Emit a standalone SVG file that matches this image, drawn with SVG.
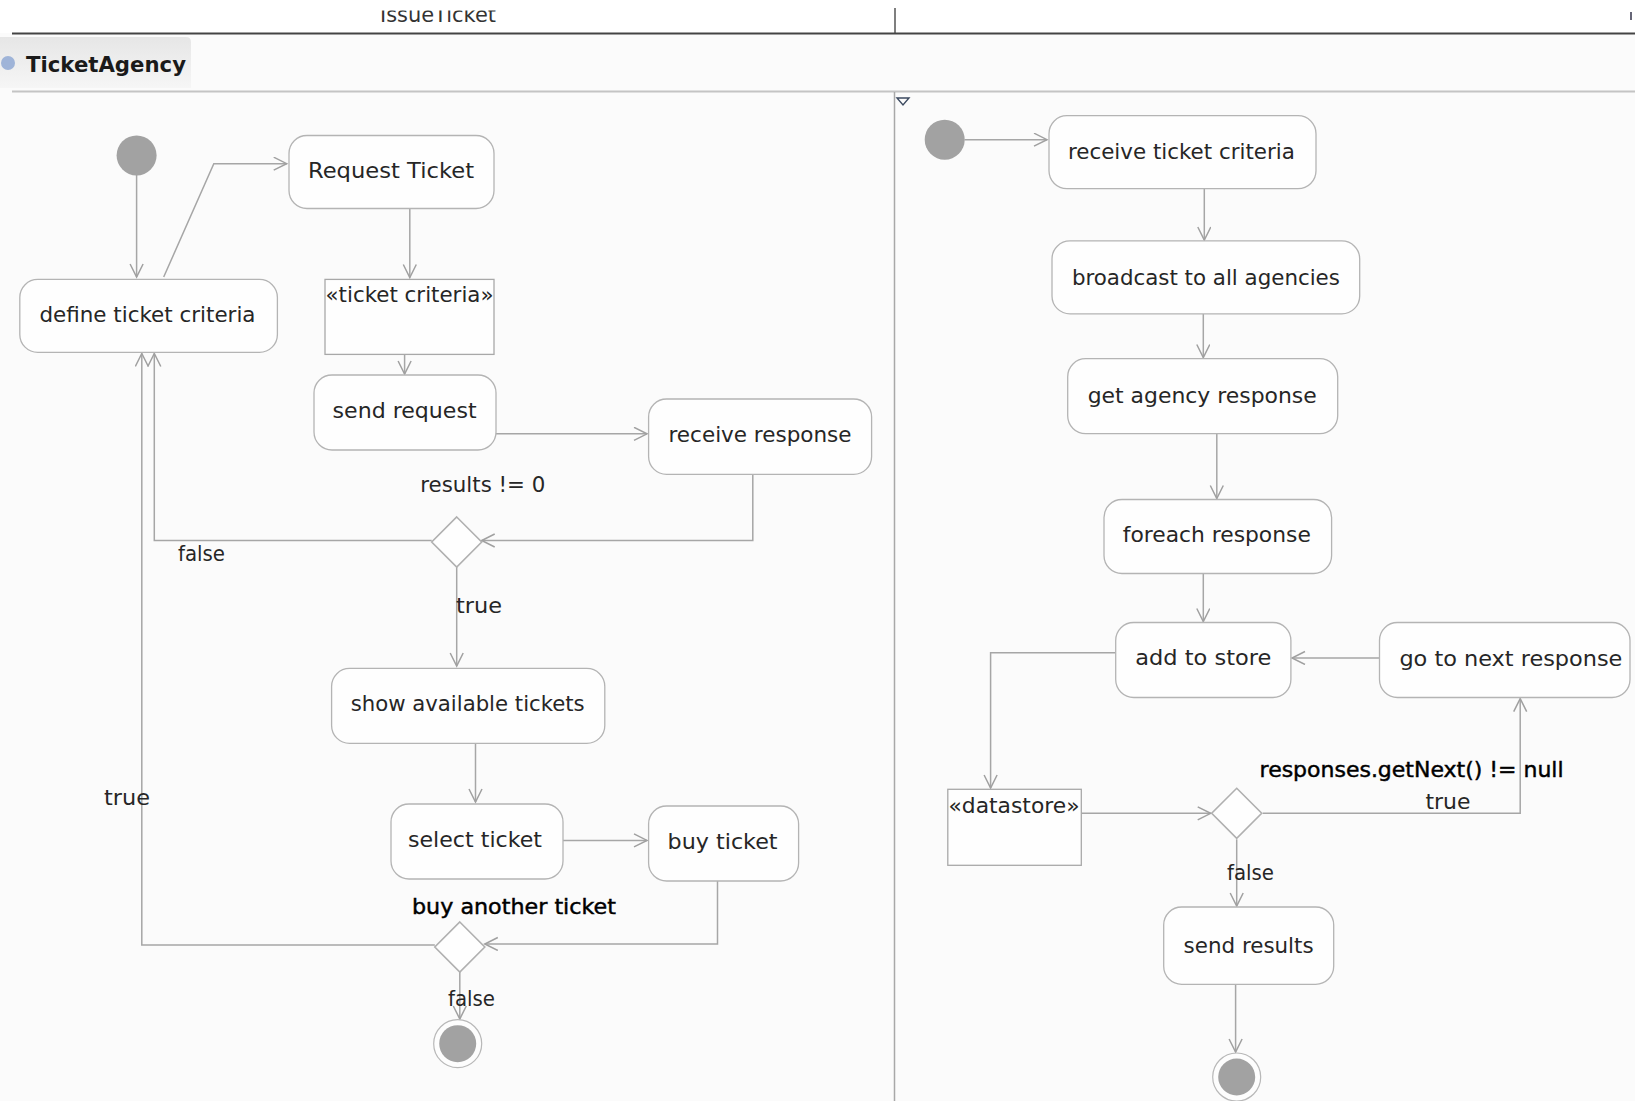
<svg xmlns="http://www.w3.org/2000/svg" width="1635" height="1101" viewBox="0 0 1635 1101">
<defs>
<style>
.bg{fill:#fbfbfb}
.act{fill:#fefefe;stroke:#b4b4b4;stroke-width:1.3}
.obj{fill:#fefefe;stroke:#a8a8a8;stroke-width:1.3}
.dec{fill:#fefefe;stroke:#b0b0b0;stroke-width:1.6}
.init{fill:#a2a2a2}
.fin-o{fill:#fdfdfd;stroke:#b8b8b8;stroke-width:1.2}
.fin-i{fill:#a2a2a2}
.t{font-family:"DejaVu Sans","Liberation Sans",sans-serif;font-size:21px;fill:#262626}
.tb{font-family:"DejaVu Sans","Liberation Sans",sans-serif;font-size:21px;fill:#000;stroke:#000;stroke-width:0.45}
.c{text-anchor:middle}
.edge{fill:none;stroke:#a6a6a6;stroke-width:1.5}
</style>
<marker id="arr" markerUnits="userSpaceOnUse" markerWidth="16" markerHeight="16" refX="14" refY="7" orient="auto">
<path d="M1,0.5 L14,7 L1,13.5" fill="none" stroke="#a0a0a0" stroke-width="1.5"/>
</marker>
<linearGradient id="tabg" x1="0" y1="0" x2="0" y2="1">
<stop offset="0" stop-color="#e6e6e6"/>
<stop offset="1" stop-color="#f6f6f6"/>
</linearGradient>
<clipPath id="topclip"><rect x="0" y="10.5" width="1635" height="22"/></clipPath>
</defs>
<rect class="bg" x="0" y="0" width="1635" height="1101"/>
<rect x="0" y="0" width="1635" height="33" fill="#ffffff"/>

<g id="header">
<text x="438" y="21.5" text-anchor="middle" clip-path="url(#topclip)" font-family="DejaVu Sans, sans-serif" font-size="22" fill="#333" textLength="116" lengthAdjust="spacingAndGlyphs">IssueTicket</text>
<line x1="895" y1="8" x2="895" y2="33" stroke="#555" stroke-width="1.5"/>
<line x1="1631" y1="12" x2="1631" y2="20" stroke="#667" stroke-width="2"/>
<line x1="12" y1="33.5" x2="1635" y2="33.5" stroke="#444" stroke-width="2"/>
<path d="M0,37 H186 Q191,37 191,42 V88 H0 Z" fill="url(#tabg)"/>
<circle cx="8" cy="63" r="7" fill="#9fb4d8"/>
<text x="26" y="72" font-family="DejaVu Sans, sans-serif" font-size="21" font-weight="bold" fill="#1a1a1a" textLength="160" lengthAdjust="spacingAndGlyphs">TicketAgency</text>
<line x1="12" y1="91.5" x2="1635" y2="91.5" stroke="#c4c4c4" stroke-width="1.8"/>
<line x1="894.5" y1="92" x2="894.5" y2="1101" stroke="#a8a8a8" stroke-width="1.5"/>
<path d="M897,98 L909,98 L903,105 Z" fill="none" stroke="#3c4a60" stroke-width="1.4"/>
</g>

<g id="connectors">
<path class="edge" marker-end="url(#arr)" d="M136.6,175 V277"/>
<path class="edge" marker-end="url(#arr)" d="M163.7,277 L213.8,163.7 H286.7"/>
<path class="edge" marker-end="url(#arr)" d="M409.8,208.5 V277.5"/>
<path class="edge" marker-end="url(#arr)" d="M404.6,354.5 V374"/>
<path class="edge" marker-end="url(#arr)" d="M496,433.8 H647"/>
<path class="edge" marker-end="url(#arr)" d="M752.8,474.4 V540.5 H481.7"/>
<path class="edge" marker-end="url(#arr)" d="M431.7,540.5 H154.3 V353.5"/>
<path class="edge" marker-end="url(#arr)" d="M456.7,567 V666"/>
<path class="edge" marker-end="url(#arr)" d="M475.5,743.4 V802"/>
<path class="edge" marker-end="url(#arr)" d="M563,840.4 H647"/>
<path class="edge" marker-end="url(#arr)" d="M717.5,881 V944 H484.8"/>
<path class="edge" marker-end="url(#arr)" d="M434.8,945 H141.8 V353.5"/>
<path class="edge" marker-end="url(#arr)" d="M459.8,971 V1019"/>
<path class="edge" marker-end="url(#arr)" d="M964.5,139.7 H1047"/>
<path class="edge" marker-end="url(#arr)" d="M1204.3,188.7 V240"/>
<path class="edge" marker-end="url(#arr)" d="M1203.3,313.9 V357.5"/>
<path class="edge" marker-end="url(#arr)" d="M1216.8,433.8 V498.5"/>
<path class="edge" marker-end="url(#arr)" d="M1203.3,573.5 V621.5"/>
<path class="edge" marker-end="url(#arr)" d="M1379.5,658 H1292"/>
<path class="edge" marker-end="url(#arr)" d="M1115.7,652.7 H990.6 V788"/>
<path class="edge" marker-end="url(#arr)" d="M1081.3,813.3 H1210.7"/>
<path class="edge" marker-end="url(#arr)" d="M1262.7,813.3 H1520.2 V698.6"/>
<path class="edge" marker-end="url(#arr)" d="M1236.7,839.3 V906"/>
<path class="edge" marker-end="url(#arr)" d="M1235.6,984.3 V1052"/>
</g>

<g id="initial1"><circle class="init" cx="136.6" cy="155.4" r="20"/></g>
<g id="request-ticket"><rect class="act" x="289" y="135.5" width="205" height="73" rx="18"/><text class="t c" x="391" y="178" textLength="166" lengthAdjust="spacingAndGlyphs">Request Ticket</text></g>
<g id="define-ticket-criteria"><rect class="act" x="19.8" y="279.4" width="257.6" height="73" rx="18"/><text class="t c" x="147.5" y="322" textLength="216" lengthAdjust="spacingAndGlyphs">define ticket criteria</text></g>
<g id="ticket-criteria-obj"><rect class="obj" x="325" y="279.4" width="169" height="75"/><text class="t" x="325.5" y="302" textLength="168" lengthAdjust="spacingAndGlyphs">«ticket criteria»</text></g>
<g id="send-request"><rect class="act" x="314" y="375" width="182" height="75" rx="18"/><text class="t c" x="404.6" y="418" textLength="144" lengthAdjust="spacingAndGlyphs">send request</text></g>
<g id="receive-response"><rect class="act" x="648.6" y="399" width="223" height="75.4" rx="18"/><text class="t c" x="760" y="442" textLength="183" lengthAdjust="spacingAndGlyphs">receive response</text></g>
<g id="decision1"><path class="dec" d="M456.7,517 L481.7,542 L456.7,567 L431.7,542 Z"/></g>
<g id="lbl-results"><text class="t c" x="482.8" y="492" textLength="125" lengthAdjust="spacingAndGlyphs">results != 0</text></g>
<g id="lbl-false1"><text class="t" x="178" y="561" textLength="47" lengthAdjust="spacingAndGlyphs">false</text></g>
<g id="lbl-true1"><text class="t" x="456" y="613" textLength="46" lengthAdjust="spacingAndGlyphs">true</text></g>
<g id="show-available-tickets"><rect class="act" x="331.6" y="668.4" width="273.2" height="75" rx="18"/><text class="t c" x="467.7" y="711" textLength="234" lengthAdjust="spacingAndGlyphs">show available tickets</text></g>
<g id="select-ticket"><rect class="act" x="391" y="804" width="172" height="75" rx="18"/><text class="t c" x="475" y="847" textLength="134" lengthAdjust="spacingAndGlyphs">select ticket</text></g>
<g id="buy-ticket"><rect class="act" x="648.6" y="806" width="150" height="75" rx="18"/><text class="t c" x="722.6" y="849" textLength="110" lengthAdjust="spacingAndGlyphs">buy ticket</text></g>
<g id="lbl-buy-another"><text class="tb c" x="514" y="914" textLength="204" lengthAdjust="spacingAndGlyphs">buy another ticket</text></g>
<g id="decision2"><path class="dec" d="M459.8,922 L484.8,947 L459.8,972 L434.8,947 Z"/></g>
<g id="lbl-true2"><text class="t" x="104" y="805" textLength="46" lengthAdjust="spacingAndGlyphs">true</text></g>
<g id="lbl-false2"><text class="t" x="448" y="1006" textLength="47" lengthAdjust="spacingAndGlyphs">false</text></g>
<g id="final1"><circle class="fin-o" cx="457.7" cy="1043.7" r="24"/><circle class="fin-i" cx="457.7" cy="1043.7" r="18.5"/></g>

<g id="initial2"><circle class="init" cx="944.7" cy="139.7" r="20"/></g>
<g id="receive-ticket-criteria"><rect class="act" x="1049" y="115.7" width="267" height="73" rx="18"/><text class="t c" x="1181.4" y="158.5" textLength="227" lengthAdjust="spacingAndGlyphs">receive ticket criteria</text></g>
<g id="broadcast"><rect class="act" x="1052" y="240.9" width="307.7" height="73" rx="18"/><text class="t c" x="1205.9" y="284.7" textLength="268" lengthAdjust="spacingAndGlyphs">broadcast to all agencies</text></g>
<g id="get-agency-response"><rect class="act" x="1067.7" y="358.7" width="270" height="75" rx="18"/><text class="t c" x="1202.2" y="402.5" textLength="229" lengthAdjust="spacingAndGlyphs">get agency response</text></g>
<g id="foreach-response"><rect class="act" x="1104" y="499.5" width="227.6" height="74" rx="18"/><text class="t c" x="1216.8" y="542.2" textLength="188" lengthAdjust="spacingAndGlyphs">foreach response</text></g>
<g id="add-to-store"><rect class="act" x="1115.7" y="622.5" width="175.2" height="75" rx="18"/><text class="t c" x="1203.3" y="665.2" textLength="136" lengthAdjust="spacingAndGlyphs">add to store</text></g>
<g id="go-to-next-response"><rect class="act" x="1379.5" y="622.5" width="250.5" height="75" rx="18"/><text class="t c" x="1510.9" y="666.3" textLength="223" lengthAdjust="spacingAndGlyphs">go to next response</text></g>
<g id="datastore"><rect class="obj" x="947.8" y="789.3" width="133.5" height="76"/><text class="t" x="948.5" y="813.3" textLength="131" lengthAdjust="spacingAndGlyphs">«datastore»</text></g>
<g id="decision3"><path class="dec" d="M1236.7,788.3 L1261.7,813.3 L1236.7,838.3 L1211.7,813.3 Z"/></g>
<g id="lbl-getnext"><text class="tb" x="1259.6" y="777" textLength="304" lengthAdjust="spacingAndGlyphs">responses.getNext() != null</text></g>
<g id="lbl-true3"><text class="t" x="1425.4" y="809" textLength="45" lengthAdjust="spacingAndGlyphs">true</text></g>
<g id="lbl-false3"><text class="t" x="1227" y="880" textLength="47" lengthAdjust="spacingAndGlyphs">false</text></g>
<g id="send-results"><rect class="act" x="1163.7" y="907" width="170" height="77.3" rx="18"/><text class="t c" x="1248.6" y="953" textLength="130" lengthAdjust="spacingAndGlyphs">send results</text></g>
<g id="final2"><circle class="fin-o" cx="1236.7" cy="1077" r="24"/><circle class="fin-i" cx="1236.7" cy="1077" r="18.5"/></g>
</svg>
